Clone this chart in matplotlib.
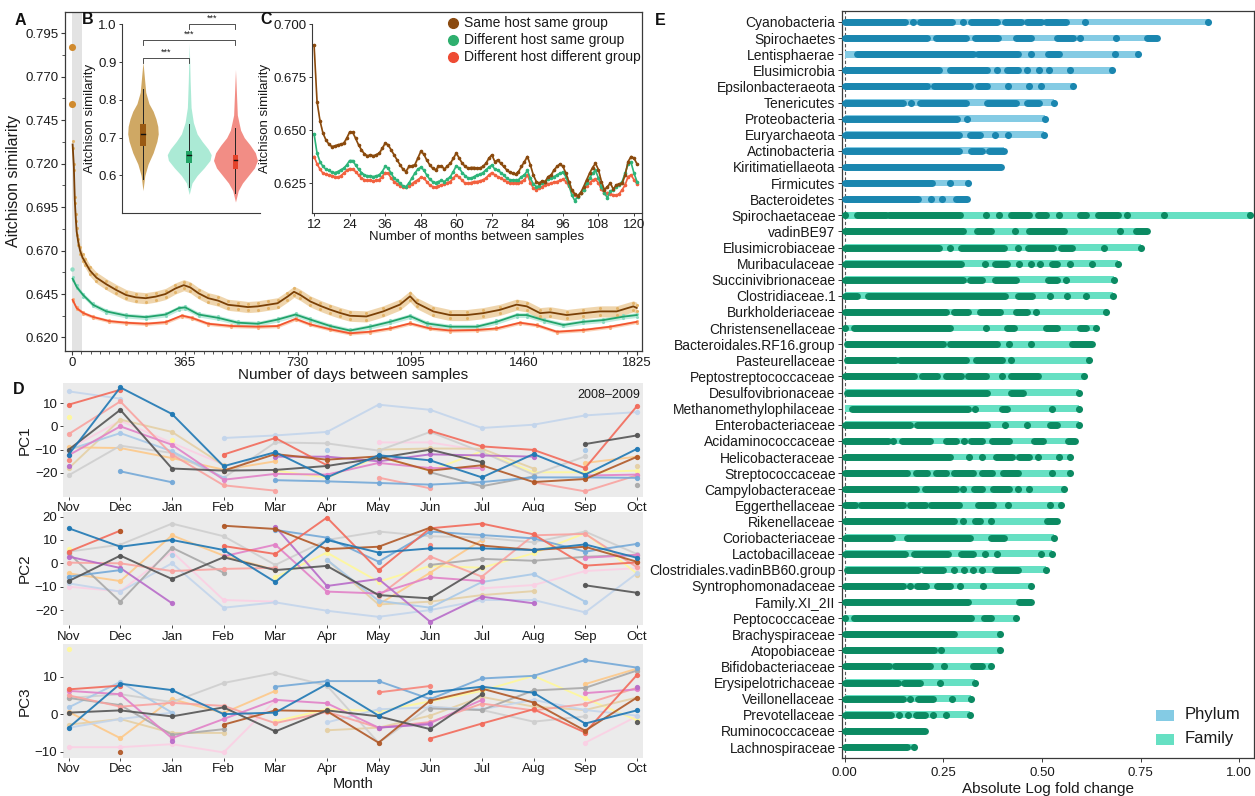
import numpy as np
import matplotlib
matplotlib.use("Agg")
import matplotlib.pyplot as plt
from matplotlib.lines import Line2D
from matplotlib.patches import Rectangle

plt.rcParams['font.family'] = ['Liberation Sans', 'DejaVu Sans']
n = np.nan

# ---------------- Panel A data ----------------
a_brown_days = [3, 7, 10, 13, 16, 21, 27, 35, 43, 59, 80, 112, 144, 176, 207, 239, 271, 303, 335, 362,
                383, 410, 441, 473, 505, 537, 569, 601, 633, 665, 697, 718, 739, 771, 803, 835, 867, 899,
                952, 1006, 1060, 1093, 1114, 1168, 1222, 1276, 1329, 1383, 1437, 1470, 1513, 1545, 1599,
                1652, 1706, 1760, 1814, 1825]
a_brown_vals = [0.731, 0.718, 0.699, 0.689, 0.681, 0.675, 0.670, 0.666, 0.6635, 0.6585, 0.6544, 0.6506,
                0.6473, 0.6444, 0.6431, 0.6426, 0.6435, 0.6450, 0.6482, 0.6501, 0.6488, 0.6454, 0.6426,
                0.6412, 0.6388, 0.6382, 0.6375, 0.6379, 0.6388, 0.6397, 0.6435, 0.6463, 0.6444, 0.6407,
                0.6382, 0.6360, 0.6341, 0.6325, 0.6321, 0.6350, 0.6389, 0.6437, 0.6398, 0.6350, 0.6329,
                0.6329, 0.6340, 0.6359, 0.6389, 0.6379, 0.6340, 0.6345, 0.6329, 0.6340, 0.6350, 0.6350,
                0.6379, 0.6370]
a_green_days = [3, 16, 37, 69, 112, 176, 239, 303, 346, 367, 410, 473, 537, 601, 665, 723, 771, 835, 899,
                963, 1028, 1093, 1147, 1222, 1308, 1372, 1437, 1470, 1524, 1588, 1652, 1717, 1782, 1825]
a_green_vals = [0.6538, 0.6491, 0.6444, 0.6388, 0.6350, 0.6326, 0.6317, 0.6332, 0.6369, 0.6373, 0.6332,
                0.6313, 0.6285, 0.6279, 0.6303, 0.6332, 0.6303, 0.6266, 0.6240, 0.6262, 0.6290, 0.6323,
                0.6281, 0.6262, 0.6262, 0.6290, 0.6329, 0.6329, 0.6300, 0.6272, 0.6290, 0.6300, 0.6320,
                0.6329]
a_red_days = [3, 16, 37, 69, 122, 176, 239, 303, 356, 388, 441, 516, 601, 665, 723, 771, 835, 899, 963,
              1028, 1093, 1157, 1222, 1308, 1372, 1448, 1502, 1567, 1652, 1739, 1825]
a_red_vals = [0.6416, 0.6369, 0.6341, 0.6318, 0.6294, 0.6285, 0.6279, 0.6288, 0.6326, 0.6313, 0.6279,
              0.6266, 0.6262, 0.6266, 0.6307, 0.6275, 0.6247, 0.6224, 0.6233, 0.6252, 0.6281, 0.6252,
              0.6240, 0.6243, 0.6252, 0.6285, 0.6271, 0.6233, 0.6243, 0.6262, 0.6290]
a_band = [0.0032, 0.0014, 0.0010]          # half-width of the ribbons (brown, green, red)
a_early_days = [1, 2, 1]
a_early_vals = [0.787, 0.754, 0.6595]

# ---------------- Panel B data ----------------
b_groups = ['Same host same group', 'Different host same group', 'Different host different group']
b_gold_y = [0.56, 0.60, 0.63, 0.66, 0.69, 0.71, 0.73, 0.75, 0.77, 0.79, 0.82, 0.86, 0.90]
b_gold_w = [0, 0.04, 0.11, 0.22, 0.30, 0.33, 0.32, 0.28, 0.22, 0.13, 0.06, 0.03, 0]
b_green_y = [0.55, 0.58, 0.60, 0.62, 0.64, 0.655, 0.67, 0.69, 0.71, 0.74, 0.78, 0.85, 0.95]
b_green_w = [0, 0.06, 0.17, 0.32, 0.45, 0.475, 0.41, 0.28, 0.17, 0.09, 0.04, 0.02, 0]
b_red_y = [0.53, 0.56, 0.58, 0.60, 0.62, 0.64, 0.66, 0.68, 0.70, 0.72, 0.76, 0.82, 0.88]
b_red_w = [0, 0.06, 0.15, 0.28, 0.41, 0.475, 0.43, 0.32, 0.19, 0.11, 0.04, 0.02, 0]
b_q1 = [0.679, 0.633, 0.618]
b_q3 = [0.737, 0.665, 0.655]
b_med = [0.711, 0.653, 0.640]
b_wlo = [0.59, 0.57, 0.555]
b_whi = [0.83, 0.735, 0.725]
b_brackets = [(1, 2, 0.91), (1, 3, 0.958), (2, 3, 1.0)]

# ---------------- Panel C data ----------------
c_months = list(range(12, 122))
c_brown = [0.6903, 0.6635, 0.6544, 0.6486, 0.6454, 0.6434, 0.6423, 0.6426, 0.6431, 0.6434,
           0.6439, 0.6462, 0.6492, 0.6491, 0.6462, 0.6431, 0.6407, 0.6388, 0.6379, 0.6384,
           0.6379, 0.6385, 0.6392, 0.6415, 0.6439, 0.6431, 0.6407, 0.6384, 0.6360, 0.6337,
           0.6316, 0.6305, 0.6329, 0.6332, 0.6337, 0.6368, 0.6400, 0.6388, 0.6360, 0.6337,
           0.6321, 0.6313, 0.6329, 0.6332, 0.6316, 0.6332, 0.6344, 0.6368, 0.6392, 0.6368,
           0.6344, 0.6329, 0.6321, 0.6324, 0.6324, 0.6321, 0.6322, 0.6329, 0.6344, 0.6368,
           0.6384, 0.6352, 0.6360, 0.6344, 0.6329, 0.6313, 0.6302, 0.6297, 0.6293, 0.6305,
           0.6329, 0.6352, 0.6376, 0.6337, 0.6289, 0.6258, 0.6250, 0.6261, 0.6258, 0.6281,
           0.6289, 0.6313, 0.6329, 0.6341, 0.6329, 0.6297, 0.6258, 0.6219, 0.6200, 0.6190,
           0.6206, 0.6234, 0.6266, 0.6297, 0.6324, 0.6344, 0.6313, 0.6258, 0.6219, 0.6234,
           0.6250, 0.6222, 0.6242, 0.6247, 0.6250, 0.6289, 0.6352, 0.6376, 0.6368, 0.6341]
c_green = [0.6483, 0.6392, 0.6352, 0.6329, 0.6316, 0.6310, 0.6302, 0.6300, 0.6305, 0.6313,
           0.6321, 0.6336, 0.6357, 0.6357, 0.6336, 0.6316, 0.6300, 0.6289, 0.6285, 0.6285,
           0.6281, 0.6285, 0.6289, 0.6305, 0.6329, 0.6321, 0.6297, 0.6274, 0.6263, 0.6250,
           0.6237, 0.6234, 0.6250, 0.6274, 0.6297, 0.6316, 0.6325, 0.6313, 0.6289, 0.6269,
           0.6258, 0.6253, 0.6258, 0.6263, 0.6258, 0.6269, 0.6281, 0.6305, 0.6332, 0.6321,
           0.6300, 0.6285, 0.6274, 0.6274, 0.6281, 0.6289, 0.6292, 0.6300, 0.6313, 0.6325,
           0.6336, 0.6316, 0.6313, 0.6300, 0.6289, 0.6274, 0.6266, 0.6266, 0.6263, 0.6266,
           0.6281, 0.6289, 0.6310, 0.6274, 0.6247, 0.6234, 0.6237, 0.6250, 0.6258, 0.6269,
           0.6274, 0.6281, 0.6289, 0.6297, 0.6302, 0.6281, 0.6242, 0.6195, 0.6168, 0.6187,
           0.6206, 0.6219, 0.6250, 0.6274, 0.6297, 0.6310, 0.6274, 0.6234, 0.6203, 0.6182,
           0.6211, 0.6219, 0.6234, 0.6242, 0.6258, 0.6297, 0.6341, 0.6348, 0.6297, 0.6258]
c_red = [0.6376, 0.6341, 0.6316, 0.6297, 0.6292, 0.6289, 0.6286, 0.6281, 0.6278, 0.6285,
         0.6297, 0.6310, 0.6319, 0.6316, 0.6305, 0.6289, 0.6274, 0.6266, 0.6263, 0.6263,
         0.6261, 0.6263, 0.6266, 0.6281, 0.6300, 0.6297, 0.6274, 0.6258, 0.6247, 0.6237,
         0.6230, 0.6231, 0.6237, 0.6247, 0.6258, 0.6266, 0.6277, 0.6274, 0.6258, 0.6242,
         0.6234, 0.6231, 0.6237, 0.6242, 0.6247, 0.6253, 0.6258, 0.6274, 0.6289, 0.6278,
         0.6263, 0.6250, 0.6250, 0.6253, 0.6258, 0.6258, 0.6261, 0.6266, 0.6274, 0.6289,
         0.6300, 0.6289, 0.6281, 0.6274, 0.6266, 0.6258, 0.6253, 0.6250, 0.6250, 0.6253,
         0.6258, 0.6266, 0.6289, 0.6253, 0.6226, 0.6219, 0.6226, 0.6234, 0.6242, 0.6247,
         0.6250, 0.6255, 0.6258, 0.6263, 0.6269, 0.6258, 0.6237, 0.6211, 0.6195, 0.6190,
         0.6203, 0.6219, 0.6237, 0.6253, 0.6263, 0.6269, 0.6250, 0.6222, 0.6203, 0.6206,
         0.6200, 0.6195, 0.6193, 0.6200, 0.6219, 0.6242, 0.6281, 0.6289, 0.6266, 0.6247]

# ---------------- Panel D data ----------------
d_months = ['Nov', 'Dec', 'Jan', 'Feb', 'Mar', 'Apr', 'May', 'Jun', 'Jul', 'Aug', 'Sep', 'Oct']
d_host_colors = ['#FBD0E4', '#FFF89A', '#E5D0A5', '#FDC98A', '#CFCFCF', '#C3D5EC', '#A9C9E8',
                 '#A9A9A9', '#F9A3A0', '#E282C8', '#B86CC9', '#74A9D8', '#F7857A', '#F26B5B',
                 '#B15928', '#555555', '#1F78B4']
pc1 = [
    [-9.7, 2.4, -7.1, -16.4, n, n, -6.9, -6.9, -10.4, n, n, n],
    [3.9, n, -5.7, n, -19.0, -22.0, -13.0, -19.0, -10.7, -19.7, -19.7, -19.0],
    [-18.0, 2.9, -2.4, -16.7, n, n, -10.0, -9.5, -9.6, -18.1, n, -17.0],
    [-9.0, -9.3, -13.6, -18.6, -15.0, n, n, n, n, n, -15.7, -13.0],
    [-21.0, -8.3, -11.4, -22.1, -6.9, -7.3, -10.4, -2.4, -11.0, -20.7, -12.9, n],
    [15.0, 11.9, n, -5.0, -3.9, -2.4, 9.3, 7.1, -0.7, 0.7, 4.7, 6.1],
    [-10.0, -2.9, -10.7, -22.0, n, -10.0, n, n, n, n, -10.0, n],
    [n, n, n, n, n, n, n, -19.7, -25.7, -21.5, n, -25.0],
    [-3.3, 10.7, -12.1, -25.3, -27.6, n, -22.0, -26.6, n, -24.0, -27.9, -21.0],
    [-12.4, 0.0, -7.9, -22.9, -20.4, -20.7, -15.7, -17.9, -17.9, n, -21.1, -20.7],
    [-17.0, n, n, n, -13.0, -13.0, -15.0, -12.0, -12.5, -13.0, n, n],
    [n, -19.3, -24.0, n, -23.1, -23.6, -24.3, -25.0, -23.9, -21.9, -21.9, -22.1],
    [-14.5, n, n, n, n, n, n, n, n, n, n, n],
    [9.3, 15.7, n, -12.1, -5.0, -16.7, n, -1.9, -8.6, -10.1, -17.9, 8.6],
    [n, n, n, -19.0, -11.9, -14.3, -12.9, -19.0, -16.7, -23.9, -22.6, -13.1],
    [-10.0, 7.1, -18.1, -19.0, -18.7, -17.0, -13.6, -10.0, -15.4, n, -7.6, -3.9],
    [-12.1, 16.7, 5.3, -17.1, -11.1, -21.9, -12.4, -14.6, -21.9, -11.9, -20.7, -9.7],
]
pc2 = [
    [-10.0, -12.0, 5.0, -15.7, -16.4, n, n, n, -10.7, -9.3, -3.3, -2.1],
    [6.0, n, n, n, -6.0, 4.6, -7.9, -1.1, -1.9, 4.3, 12.9, -4.3],
    [4.3, n, n, n, n, 1.5, -17.6, -16.4, -13.6, -11.9, n, -5.0],
    [-4.3, -7.6, 12.0, 3.3, -2.9, n, -17.6, -4.0, 10.0, n, n, n],
    [5.0, 8.0, 17.0, 11.6, -0.7, 10.0, 13.6, 11.6, 11.0, 9.0, 13.6, 4.0],
    [-8.6, -12.1, 0.0, -19.0, -16.7, -20.3, -22.9, -20.0, -15.7, -15.7, -21.0, -4.3],
    [-6.0, n, 3.5, n, n, 1.5, -16.0, -19.0, -8.0, -4.6, -16.4, n],
    [4.3, -16.4, 6.7, -4.0, n, n, n, -0.7, 1.9, 1.1, 2.8, 3.6],
    [0.3, 0.0, -3.3, -2.4, -1.9, n, -14.0, 2.9, -5.7, 12.0, 12.6, -1.6],
    [n, n, n, 3.0, 8.0, -12.1, -12.9, -6.0, -7.6, n, 2.4, 3.6],
    [2.9, -2.0, -17.1, n, 15.7, -9.7, -6.7, -25.0, -14.3, -17.1, n, n],
    [-5.7, -2.9, n, n, 14.3, 11.0, 0.7, 13.6, 12.1, 10.7, 5.0, 8.3],
    [n, n, n, n, n, n, n, 8.0, n, n, n, n],
    [5.0, 14.0, n, 7.4, 4.0, 19.6, -3.0, 15.0, 17.0, 12.4, -1.0, 0.4],
    [n, 14.0, n, 16.1, 14.7, 6.1, 7.1, 15.3, 7.6, 5.7, 7.1, 0.7],
    [-7.6, 3.3, -6.7, 2.6, -2.9, -1.1, -13.6, -15.0, -1.6, n, -9.4, -12.6],
    [15.0, 7.1, 10.0, 5.7, -8.0, 10.0, 4.6, 6.4, 6.4, 5.7, 8.1, 2.4],
]
pc3 = [
    [-8.8, -8.8, -8.0, -10.2, 3.6, n, n, n, n, n, -7.6, -0.6],
    [17.3, n, n, n, -1.9, 1.3, 0.8, 3.4, 6.2, 10.2, 4.2, -1.6],
    [-2.8, -1.3, -5.0, -5.0, n, -4.3, -3.6, -0.4, 4.6, 2.0, 1.1, 4.4],
    [0.6, -6.4, 4.0, 0.3, 6.2, n, n, n, n, n, 8.0, 12.1],
    [4.3, 5.3, 3.2, 8.3, 11.0, 7.6, -7.6, 2.0, 1.1, -2.0, -0.6, n],
    [-3.6, -1.3, 0.4, n, n, -2.2, 1.3, 1.8, 1.3, 3.8, 1.1, -0.4],
    [1.8, 8.6, 0.4, n, n, n, n, n, n, n, n, n],
    [4.3, 2.4, -5.5, -4.0, n, n, n, 1.5, 1.1, 6.3, 7.0, 11.6],
    [5.0, 2.0, 3.0, 2.2, -2.4, 0.6, -3.6, -2.1, 2.8, 1.0, 2.7, 7.0],
    [6.2, 5.3, -6.4, -1.3, 3.8, 2.9, -3.6, -2.4, 3.8, n, 5.6, 6.6],
    [n, n, -7.1, n, n, n, -3.6, -2.7, n, n, n, 7.3],
    [n, n, n, n, 7.3, 8.8, 8.8, 4.0, 9.5, 10.2, 14.4, 12.4],
    [n, n, n, n, n, n, 5.8, 7.5, n, n, n, n],
    [6.6, 7.6, n, n, n, n, n, -6.5, -2.5, 1.3, -4.9, 10.4],
    [n, -10.2, n, -2.8, 1.0, 0.8, -7.6, 3.6, 6.8, 3.1, -4.4, 4.4],
    [0.4, 1.0, -0.6, 1.8, -4.6, 1.0, -0.6, -4.0, 5.3, n, n, -2.1],
    [-3.6, 8.1, 6.4, 0.0, 0.4, 8.0, -0.4, 5.8, 7.3, 5.7, -2.5, 1.0],
]

# ---------------- Panel E data ----------------
phylum_names = ['Cyanobacteria', 'Spirochaetes', 'Lentisphaerae', 'Elusimicrobia', 'Epsilonbacteraeota',
                'Tenericutes', 'Proteobacteria', 'Euryarchaeota', 'Actinobacteria', 'Kiritimatiellaeota',
                'Firmicutes', 'Bacteroidetes']
phylum_max = [0.920, 0.792, 0.742, 0.677, 0.579, 0.531, 0.507, 0.504, 0.403, 0.395, 0.312, 0.310]
phylum_dots = [
    [(0, 0.154), (0.174, 0.174), (0.190, 0.271), (0.299, 0.299), (0.321, 0.385), (0.407, 0.448), (0.462, 0.498), (0.511, 0.561), (0.609, 0.609), (0.920, 0.920)],
    [(0, 0.208), (0.231, 0.308), (0.330, 0.389), (0.434, 0.471), (0.538, 0.579), (0.597, 0.597), (0.688, 0.688), (0.765, 0.792)],
    [(0.032, 0.326), (0.339, 0.439), (0.473, 0.473), (0.516, 0.543), (0.686, 0.686), (0.742, 0.742)],
    [(0, 0.240), (0.267, 0.362), (0.387, 0.387), (0.412, 0.439), (0.462, 0.462), (0.493, 0.493), (0.519, 0.519), (0.570, 0.570), (0.677, 0.677)],
    [(0, 0.208), (0.226, 0.317), (0.339, 0.362), (0.414, 0.414), (0.466, 0.466), (0.498, 0.498), (0.579, 0.579)],
    [(0, 0.149), (0.169, 0.169), (0.190, 0.308), (0.362, 0.434), (0.462, 0.493), (0.531, 0.531)],
    [(0, 0.285), (0.310, 0.310), (0.507, 0.507)],
    [(0, 0.290), (0.317, 0.344), (0.380, 0.380), (0.414, 0.414), (0.504, 0.504)],
    [(0, 0.290), (0.321, 0.348), (0.365, 0.403)],
    [(0, 0.395)],
    [(0, 0.222), (0.267, 0.267), (0.312, 0.312)],
    [(0, 0.186), (0.220, 0.220), (0.247, 0.247), (0.283, 0.310)],
]
family_names = ['Spirochaetaceae', 'vadinBE97', 'Elusimicrobiaceae', 'Muribaculaceae', 'Succinivibrionaceae',
                'Clostridiaceae.1', 'Burkholderiaceae', 'Christensenellaceae', 'Bacteroidales.RF16.group',
                'Pasteurellaceae', 'Peptostreptococcaceae', 'Desulfovibrionaceae', 'Methanomethylophilaceae',
                'Enterobacteriaceae', 'Acidaminococcaceae', 'Helicobacteraceae', 'Streptococcaceae',
                'Campylobacteraceae', 'Eggerthellaceae', 'Rikenellaceae', 'Coriobacteriaceae',
                'Lactobacillaceae', 'Clostridiales.vadinBB60.group', 'Syntrophomonadaceae', 'Family.XI_2II',
                'Peptococcaceae', 'Brachyspiraceae', 'Atopobiaceae', 'Bifidobacteriaceae',
                'Erysipelotrichaceae', 'Veillonellaceae', 'Prevotellaceae', 'Ruminococcaceae',
                'Lachnospiraceae']
family_max = [1.027, 0.765, 0.751, 0.692, 0.683, 0.681, 0.661, 0.638, 0.627, 0.620, 0.606, 0.595, 0.593,
              0.593, 0.584, 0.570, 0.570, 0.557, 0.548, 0.538, 0.531, 0.525, 0.511, 0.473, 0.471, 0.434,
              0.394, 0.394, 0.371, 0.330, 0.321, 0.317, 0.204, 0.175]
family_dots = [
    [(0, 0), (0.032, 0.104), (0.113, 0.292), (0.357, 0.357), (0.392, 0.392), (0.421, 0.466), (0.489, 0.509), (0.543, 0.543), (0.597, 0.611), (0.643, 0.692), (0.715, 0.715), (0.810, 0.810), (1.027, 1.027)],
    [(0, 0.299), (0.335, 0.371), (0.432, 0.432), (0.466, 0.557), (0.697, 0.697), (0.738, 0.765)],
    [(0, 0.240), (0.267, 0.267), (0.294, 0.403), (0.439, 0.439), (0.464, 0.529), (0.549, 0.575), (0.656, 0.656), (0.751, 0.751)],
    [(0, 0.294), (0.356, 0.356), (0.380, 0.412), (0.443, 0.443), (0.471, 0.471), (0.496, 0.496), (0.525, 0.538), (0.570, 0.570), (0.627, 0.627), (0.692, 0.692)],
    [(0, 0.299), (0.317, 0.348), (0.380, 0.434), (0.516, 0.538), (0.561, 0.561), (0.683, 0.683)],
    [(0, 0.032), (0.059, 0.407), (0.439, 0.475), (0.520, 0.520), (0.563, 0.563), (0.611, 0.611), (0.681, 0.681)],
    [(0, 0.258), (0.276, 0.312), (0.344, 0.394), (0.434, 0.462), (0.484, 0.484), (0.661, 0.661)],
    [(0, 0), (0.023, 0.267), (0.357, 0.357), (0.412, 0.430), (0.511, 0.538), (0.597, 0.611), (0.638, 0.638)],
    [(0.005, 0.249), (0.267, 0.385), (0.416, 0.416), (0.471, 0.471), (0.575, 0.627)],
    [(0.005, 0.127), (0.140, 0.308), (0.332, 0.398), (0.421, 0.421), (0.620, 0.620)],
    [(0, 0.176), (0.195, 0.235), (0.256, 0.294), (0.312, 0.357), (0.398, 0.398), (0.421, 0.489), (0.606, 0.606)],
    [(0.005, 0.362), (0.421, 0.452), (0.595, 0.595)],
    [(0.018, 0.312), (0.330, 0.330), (0.398, 0.412), (0.525, 0.525), (0.593, 0.593)],
    [(0, 0.167), (0.184, 0.362), (0.407, 0.407), (0.462, 0.462), (0.520, 0.538), (0.593, 0.593)],
    [(0, 0.109), (0.122, 0.122), (0.145, 0.217), (0.258, 0.281), (0.303, 0.303), (0.321, 0.348), (0.374, 0.416), (0.480, 0.502), (0.566, 0.584)],
    [(0, 0.267), (0.314, 0.314), (0.347, 0.347), (0.383, 0.425), (0.443, 0.466), (0.491, 0.491), (0.543, 0.543), (0.570, 0.570)],
    [(0, 0.158), (0.181, 0.208), (0.231, 0.256), (0.278, 0.326), (0.348, 0.374), (0.401, 0.439), (0.525, 0.525), (0.570, 0.570)],
    [(0, 0.181), (0.204, 0.281), (0.301, 0.301), (0.329, 0.347), (0.376, 0.416), (0.439, 0.439), (0.468, 0.468), (0.557, 0.557)],
    [(0, 0.027), (0.041, 0.149), (0.167, 0.204), (0.220, 0.290), (0.338, 0.376), (0.414, 0.414), (0.520, 0.520), (0.548, 0.548)],
    [(0, 0.276), (0.299, 0.299), (0.330, 0.344), (0.371, 0.371), (0.513, 0.538)],
    [(0, 0.120), (0.158, 0.317), (0.371, 0.403), (0.531, 0.531)],
    [(0, 0.154), (0.175, 0.262), (0.294, 0.326), (0.355, 0.355), (0.386, 0.386), (0.498, 0.498), (0.525, 0.525)],
    [(0.005, 0.186), (0.202, 0.249), (0.278, 0.278), (0.303, 0.303), (0.326, 0.326), (0.348, 0.348), (0.380, 0.439), (0.511, 0.511)],
    [(0, 0.148), (0.167, 0.167), (0.184, 0.205), (0.235, 0.267), (0.292, 0.292), (0.350, 0.350), (0.473, 0.473)],
    [(0, 0.312), (0.443, 0.471)],
    [(0, 0), (0.023, 0.321), (0.353, 0.371), (0.434, 0.434)],
    [(0, 0.276), (0.394, 0.394)],
    [(0, 0.226), (0.244, 0.244), (0.394, 0.394)],
    [(0, 0.113), (0.127, 0.217), (0.251, 0.251), (0.326, 0.348), (0.371, 0.371)],
    [(0, 0.136), (0.151, 0.190), (0.242, 0.242), (0.330, 0.330)],
    [(0, 0.149), (0.167, 0.167), (0.187, 0.224), (0.271, 0.271), (0.321, 0.321)],
    [(0, 0.118), (0.138, 0.138), (0.160, 0.160), (0.181, 0.204), (0.224, 0.224), (0.256, 0.256), (0.317, 0.317)],
    [(0, 0.204)],
    [(0, 0.158), (0.175, 0.175)],
]

# ================= drawing =================
W, H = 1255, 796
fig = plt.figure(figsize=(W / 100, H / 100), dpi=100)


def add_ax(l, t, r, b):
    return fig.add_axes([l / W, 1 - b / H, (r - l) / W, (b - t) / H])


TXT = '#1a1a1a'
SP = '#3a3a3a'

# ---------- Panel A ----------
axA = add_ax(65, 12, 642, 350.7)
axA.set_xlim(-21.6, 1842)
axA.set_ylim(0.6124, 0.8072)
axA.axvspan(0, 32, color='#E3E3E3', lw=0, zorder=0)
series_A = [
    (a_green_days, a_green_vals, a_band[1], '#8EDCC3', '#21A36B'),
    (a_red_days, a_red_vals, a_band[2], '#F9AE7E', '#F2552F'),
    (a_brown_days, a_brown_vals, a_band[0], '#E3B46A', '#7A4006'),
]
for d, v, hw, bc, lc in series_A:
    d = np.array(d); v = np.array(v)
    axA.fill_between(d, v - hw, v + hw, color=bc, alpha=0.55, lw=0, zorder=1)
    axA.scatter(d, v + hw * 0.6, s=5, color=bc, lw=0, zorder=2)
    axA.scatter(d, v - hw * 0.6, s=5, color=bc, lw=0, zorder=2)
    axA.plot(d, v, color=lc, lw=1.3, zorder=3)
axA.scatter(a_early_days[:2], a_early_vals[:2], s=26, color='#D08A2E', lw=0, zorder=4)
axA.scatter(a_early_days[2:], a_early_vals[2:], s=10, color='#8EDCC3', lw=0, zorder=4)
axA.set_xticks([0, 365, 730, 1095, 1460, 1825])
axA.set_xticks(np.arange(0, 1826, 365 / 12), minor=True)
yt = [0.620, 0.645, 0.670, 0.695, 0.720, 0.745, 0.770, 0.795]
axA.set_yticks(yt)
axA.set_yticklabels(['%.3f' % t for t in yt])
axA.set_yticks([t + 0.0125 for t in yt[:-1]], minor=True)
axA.tick_params(labelsize=9.5, colors=SP, labelcolor=TXT, length=3, width=0.8, pad=1.5)
axA.tick_params(which='minor', length=2, width=0.6, colors=SP)
for s in axA.spines.values():
    s.set_color(SP); s.set_linewidth(0.9)
axA.set_xlabel('Number of days between samples', fontsize=11, labelpad=-1, color=TXT)
axA.set_ylabel('Aitchison similarity', fontsize=11.5, labelpad=3, color=TXT)

# ---------- Panel B ----------
axB = add_ax(121.7, 24.3, 260, 213.3)
axB.patch.set_alpha(0)
axB.set_xlim(0.54, 3.53)
axB.set_ylim(0.5, 1.0)
vio_cols = ['#CDA35C', '#A7E9D3', '#F2877E']
box_cols = ['#9A5A13', '#22A466', '#E5432B']
profiles = [(b_gold_y, b_gold_w), (b_green_y, b_green_w), (b_red_y, b_red_w)]
for i, (yy, ww) in enumerate(profiles):
    x0 = i + 1
    yy = np.array(yy); ww = np.array(ww)
    axB.fill_betweenx(yy, x0 - ww, x0 + ww, color=vio_cols[i], lw=0, alpha=0.95)
    axB.plot([x0, x0], [b_wlo[i], b_whi[i]], color='#222222', lw=0.7)
    axB.add_patch(Rectangle((x0 - 0.06, b_q1[i]), 0.12, b_q3[i] - b_q1[i], color=box_cols[i], lw=0, zorder=3))
    axB.plot([x0 - 0.04, x0 + 0.04], [b_med[i], b_med[i]], color='#111111', lw=1.0, zorder=4)
for a, b, yb in b_brackets:
    axB.plot([a, a, b, b], [yb - 0.012, yb, yb, yb - 0.012], color='#333333', lw=0.6, clip_on=False)
    axB.text((a + b) / 2, yb + 0.003, '***', ha='center', va='bottom', fontsize=6.5, color=TXT)
axB.set_xticks([])
axB.set_yticks([0.6, 0.7, 0.8, 0.9, 1.0])
axB.set_yticklabels(['0.6', '0.7', '0.8', '0.9', '1.0'])
axB.spines['top'].set_visible(False)
axB.spines['right'].set_visible(False)
for s in ['left', 'bottom']:
    axB.spines[s].set_color(SP); axB.spines[s].set_linewidth(0.8)
axB.tick_params(labelsize=9.5, colors=SP, labelcolor=TXT, length=2.5, width=0.7, pad=1)
axB.set_ylabel('Aitchison similarity', fontsize=9.5, labelpad=2, color=TXT)

# ---------- Panel C ----------
axC = add_ax(312, 24.3, 642, 213.3)
axC.patch.set_alpha(0)
axC.set_xlim(11.3, 122.7)
axC.set_ylim(0.6108, 0.700)
cm = np.array(c_months)
for vals, col, bc, hw in [(c_red, '#F2613F', '#F9B49A', 0.0003),
                           (c_green, '#2DB479', '#9FE2C6', 0.0003),
                           (c_brown, '#8A4A0E', '#DDB46E', 0.0007)]:
    v = np.array(vals)
    axC.fill_between(cm, v - hw, v + hw, color=bc, alpha=0.7, lw=0)
    axC.plot(cm, v, color=col, lw=1.2, marker='o', ms=1.6)
axC.set_xticks(list(range(12, 121, 12)))
ytc = [0.625, 0.650, 0.675, 0.700]
axC.set_yticks(ytc)
axC.set_yticklabels(['%.3f' % t for t in ytc])
axC.spines['top'].set_visible(False)
axC.spines['right'].set_visible(False)
for s in ['left', 'bottom']:
    axC.spines[s].set_color(SP); axC.spines[s].set_linewidth(0.8)
axC.tick_params(labelsize=9.5, colors=SP, labelcolor=TXT, length=2.5, width=0.7, pad=1.5)
axC.set_xlabel('Number of months between samples', fontsize=9.5, labelpad=0, color=TXT)
axC.set_ylabel('Aitchison similarity', fontsize=9.5, labelpad=2, color=TXT)

leg_cols = ['#8B4A10', '#2EAF6E', '#EE4B33']
for i, (lab, col) in enumerate(zip(b_groups, leg_cols)):
    yy = 1 - (22.7 + i * 17.3) / H
    fig.add_artist(Line2D([453.3 / W], [yy], marker='o', ms=7, color=col, lw=0, transform=fig.transFigure))
    fig.text(464.3 / W, yy, lab, fontsize=10, va='center', ha='left', color=TXT)

# ---------- Panel D ----------
d_boxes = [(383, 496.5, (-30.1, 18.6), [-20, -10, 0, 10], 'PC1', pc1),
           (511.7, 625, (-26.4, 22.1), [-20, -10, 0, 10, 20], 'PC2', pc2),
           (644.3, 757.7, (-11.6, 18.6), [-10, 0, 10], 'PC3', pc3)]
xm = np.arange(len(d_months))
for k, (t, b, yl, yts, lab, data) in enumerate(d_boxes):
    ax = add_ax(63, t, 643, b)
    ax.set_facecolor('#EBEBEB')
    for s in ax.spines.values():
        s.set_visible(False)
    for col, vals in zip(d_host_colors, data):
        ax.plot(xm, vals, color=col, lw=1.4, marker='o', ms=2.8, alpha=0.9)
    ax.set_xlim(-0.11, 11.12)
    ax.set_ylim(*yl)
    ax.set_yticks(yts)
    ax.set_xticks(xm)
    ax.set_xticklabels(d_months)
    ax.tick_params(labelsize=9.5, colors='#444444', labelcolor=TXT, length=2.5, width=0.7, pad=1.5)
    ax.set_ylabel(lab, fontsize=11, labelpad=2, color=TXT)
    if k == 0:
        ax.text(0.995, 0.95, '2008\u20132009', transform=ax.transAxes, ha='right', va='top',
                fontsize=9, color=TXT)
    if k == 2:
        ax.set_xlabel('Month', fontsize=10.5, labelpad=1, color=TXT)

# ---------- Panel E ----------
axE = add_ax(841.8, 11, 1253.6, 758)
names = phylum_names + family_names
maxes = phylum_max + family_max
dots = phylum_dots + family_dots
nrow = len(names)
axE.set_ylim(nrow - 1 + 0.68, -0.68)
axE.set_xlim(-0.007, 1.036)
axE.axvline(0, color='#555555', lw=0.8, ls=(0, (3, 2)), zorder=1)
for i in range(nrow):
    is_ph = i < len(phylum_names)
    bar_c = '#84CBE4' if is_ph else '#66E0C3'
    dot_c = '#1A86AF' if is_ph else '#0B8A62'
    axE.barh(i, maxes[i], height=0.42, color=bar_c, lw=0, zorder=2)
    for a, b in dots[i]:
        if b - a < 1e-9:
            axE.scatter([a], [i], s=26, color=dot_c, lw=0, zorder=3)
        else:
            axE.plot([a, b], [i, i], color=dot_c, lw=5.0, solid_capstyle='round', zorder=3)
axE.set_yticks(range(nrow))
axE.set_yticklabels(names)
axE.set_xticks([0, 0.25, 0.5, 0.75, 1.0])
axE.set_xticklabels(['0.00', '0.25', '0.50', '0.75', '1.00'])
axE.tick_params(axis='y', labelsize=10, colors=SP, labelcolor=TXT, length=3, width=0.7, pad=1.5)
axE.tick_params(axis='x', labelsize=9.5, colors=SP, labelcolor=TXT, length=3, width=0.7)
for s in axE.spines.values():
    s.set_color(SP); s.set_linewidth(0.9)
axE.set_xlabel('Absolute Log fold change', fontsize=11, labelpad=2, color=TXT)
for j, (lab, col) in enumerate([('Phylum', '#84CBE4'), ('Family', '#66E0C3')]):
    yc = 715 + j * 24
    fig.add_artist(Rectangle((1156 / W, 1 - (yc + 5.5) / H), 18 / W, 11 / H, color=col,
                             transform=fig.transFigure, lw=0))
    fig.text(1185 / W, 1 - yc / H, lab, fontsize=12, va='center', ha='left', color=TXT)

# ---------- panel letters ----------
for letter, x, y in [('A', 20, 20.7), ('B', 88, 19.3), ('C', 265.7, 19.3), ('E', 660, 20.7), ('D', 18.7, 389.7)]:
    fig.text(x / W, 1 - y / H, letter, fontsize=11.5, fontweight='bold', ha='center', va='center', color='#111111')

fig.savefig('out.png', dpi=100)
